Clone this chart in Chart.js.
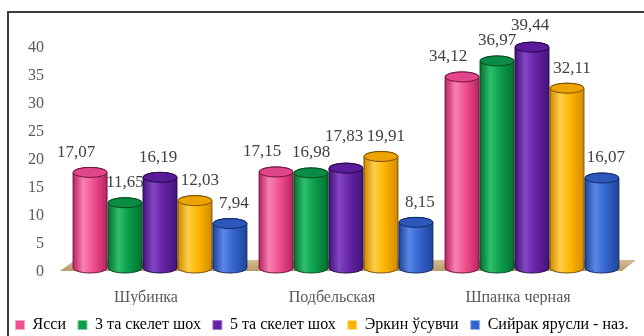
<!DOCTYPE html>
<html>
<head>
<meta charset="utf-8">
<script src="https://cdn.jsdelivr.net/npm/chart.js@4.4.1/dist/chart.umd.min.js"></script>
<style>
  html, body { margin: 0; padding: 0; background: #fff; }
  #wrap { position: relative; width: 644px; height: 336px; overflow: hidden; }
  #frame { position: absolute; left: 7px; top: 11px; width: 700px; height: 400px;
           border-top: 2px solid #3c3c3c; border-left: 2px solid #3c3c3c; }
  canvas { position: absolute; left: 0; top: 0; }
</style>
</head>
<body>
<div id="wrap">
  <div id="frame"></div>
  <canvas id="chart" width="644" height="336"></canvas>
</div>
<script>
const categories = ['Шубинка', 'Подбельская', 'Шпанка черная'];
const seriesNames = ['Ясси', '3 та скелет шох', '5 та скелет шох', 'Эркин ўсувчи', 'Сийрак ярусли - наз.'];
const yassi   = [17.07, 17.15, 34.12];
const skelet3 = [11.65, 16.98, 36.97];
const skelet5 = [16.19, 17.83, 39.44];
const erkin   = [12.03, 19.91, 32.11];
const siyrak  = [7.94, 8.15, 16.07];

// cylinder shading per series
const palette = [
  { body: '#f0508e', light: '#f882b2', dark: '#ba2262', cap: '#e2468a', line: '#6e1240' },
  { body: '#0c9e4c', light: '#2fbf6c', dark: '#05702f', cap: '#0a8c44', line: '#044a1e' },
  { body: '#6623a6', light: '#8446c4', dark: '#421478', cap: '#5a1c98', line: '#260848' },
  { body: '#ffb400', light: '#ffce4a', dark: '#d08a00', cap: '#eea400', line: '#7a5000' },
  { body: '#3565cf', light: '#5a86e6', dark: '#1f4498', cap: '#2c58bc', line: '#102a68' }
];
const labelShift = [-14, 0, -2, 5, 4];

const fmt = v => v.toFixed(2).replace('.', ',');

function drawCylinder(ctx, bar, c) {
  const rx = bar.width / 2, ry = 5;
  const x0 = bar.x - rx, x1 = bar.x + rx, top = bar.y, bottom = bar.base;
  const g = ctx.createLinearGradient(x0, 0, x1, 0);
  g.addColorStop(0, c.dark);
  g.addColorStop(0.3, c.light);
  g.addColorStop(0.6, c.body);
  g.addColorStop(1, c.dark);
  ctx.beginPath();
  ctx.moveTo(x0, top);
  ctx.lineTo(x0, bottom);
  ctx.ellipse(bar.x, bottom, rx, ry, 0, Math.PI, 0, true);
  ctx.lineTo(x1, top);
  ctx.ellipse(bar.x, top, rx, ry, 0, 0, Math.PI, true);
  ctx.closePath();
  ctx.fillStyle = g;
  ctx.fill();
  ctx.lineWidth = 1;
  ctx.strokeStyle = c.line;
  ctx.stroke();
  ctx.beginPath();
  ctx.ellipse(bar.x, top, rx, ry, 0, 0, Math.PI * 2);
  ctx.fillStyle = c.cap;
  ctx.fill();
  ctx.stroke();
}

const cylinders = {
  id: 'cylinders',
  beforeDatasetsDraw(chart) {
    const ctx = chart.ctx;
    const area = chart.chartArea;
    const base = chart.scales.y.getPixelForValue(0);

    // floor under the bars
    ctx.save();
    const fg = ctx.createLinearGradient(0, base - 8, 0, base + 3);
    fg.addColorStop(0, '#d6bd94');
    fg.addColorStop(1, '#b99a6a');
    ctx.beginPath();
    ctx.moveTo(area.left - 7, base + 3);
    ctx.lineTo(area.right - 3, base + 3);
    ctx.lineTo(area.right + 11, base - 8);
    ctx.lineTo(area.left + 8, base - 8);
    ctx.closePath();
    ctx.fillStyle = fg;
    ctx.fill();

    chart.data.datasets.forEach((ds, i) => {
      chart.getDatasetMeta(i).data.forEach(bar => drawCylinder(ctx, bar, palette[i]));
    });

    // value labels
    ctx.font = '17px "Liberation Serif", "Times New Roman", serif';
    ctx.fillStyle = '#404040';
    ctx.textAlign = 'center';
    ctx.textBaseline = 'middle';
    const boxes = [];
    chart.data.datasets.forEach((ds, i) => {
      chart.getDatasetMeta(i).data.forEach((bar, j) => {
        const text = fmt(ds.data[j]);
        const w = ctx.measureText(text).width;
        const x = bar.x + labelShift[i];
        let y = bar.y - 20;
        const hits = yy => boxes.some(b => Math.abs(b.x - x) < (b.w + w) / 2 && Math.abs(b.y - yy) < 15);
        while (hits(y)) y -= 2;
        boxes.push({ x, y, w });
        ctx.fillText(text, x, y);
      });
    });
    ctx.restore();
    return false;
  }
};

const seriesValues = [yassi, skelet3, skelet5, erkin, siyrak];
const legendBorder = ['#f7a6c8', '#7fd0a0', '#a07ad0', '#ffe08a', '#9ab6f0'];

new Chart(document.getElementById('chart'), {
  type: 'bar',
  data: {
    labels: categories,
    datasets: seriesNames.map((name, i) => ({
      label: name,
      data: seriesValues[i],
      backgroundColor: palette[i].body,
      borderColor: legendBorder[i],
      borderWidth: 1,
      categoryPercentage: 0.94,
      barPercentage: 0.97
    }))
  },
  options: {
    responsive: false,
    animation: false,
    devicePixelRatio: 1,
    layout: { padding: { left: 0, right: 0, top: 44, bottom: 0 } },
    scales: {
      x: {
        grid: { display: false, drawTicks: false },
        border: { display: false },
        ticks: {
          color: '#595959',
          padding: 20,
          labelOffset: -14,
          maxRotation: 0,
          font: { family: '"Liberation Serif", serif', size: 16 }
        },
        afterFit(scale) { scale.height = 37; }
      },
      y: {
        min: 0,
        max: 40,
        grid: { display: false, drawTicks: false },
        border: { display: false },
        ticks: {
          stepSize: 5,
          color: '#595959',
          padding: 23,
          labelOffset: 4,
          font: { family: '"Liberation Serif", serif', size: 16 }
        },
        afterFit(scale) { scale.width = 67; }
      },
      // empty strip on the right so the legend can use the full width
      side: {
        position: 'right',
        min: 0,
        max: 40,
        grid: { display: false, drawTicks: false },
        border: { display: false },
        ticks: { display: false },
        afterFit(scale) { scale.width = 19; }
      }
    },
    plugins: {
      legend: {
        position: 'bottom',
        maxHeight: 31,
        labels: {
          boxWidth: 9,
          boxHeight: 9,
          padding: 12,
          color: '#000',
          font: { family: '"Liberation Serif", serif', size: 16 }
        }
      },
      tooltip: { enabled: false }
    }
  },
  plugins: [cylinders]
});
</script>
</body>
</html>
